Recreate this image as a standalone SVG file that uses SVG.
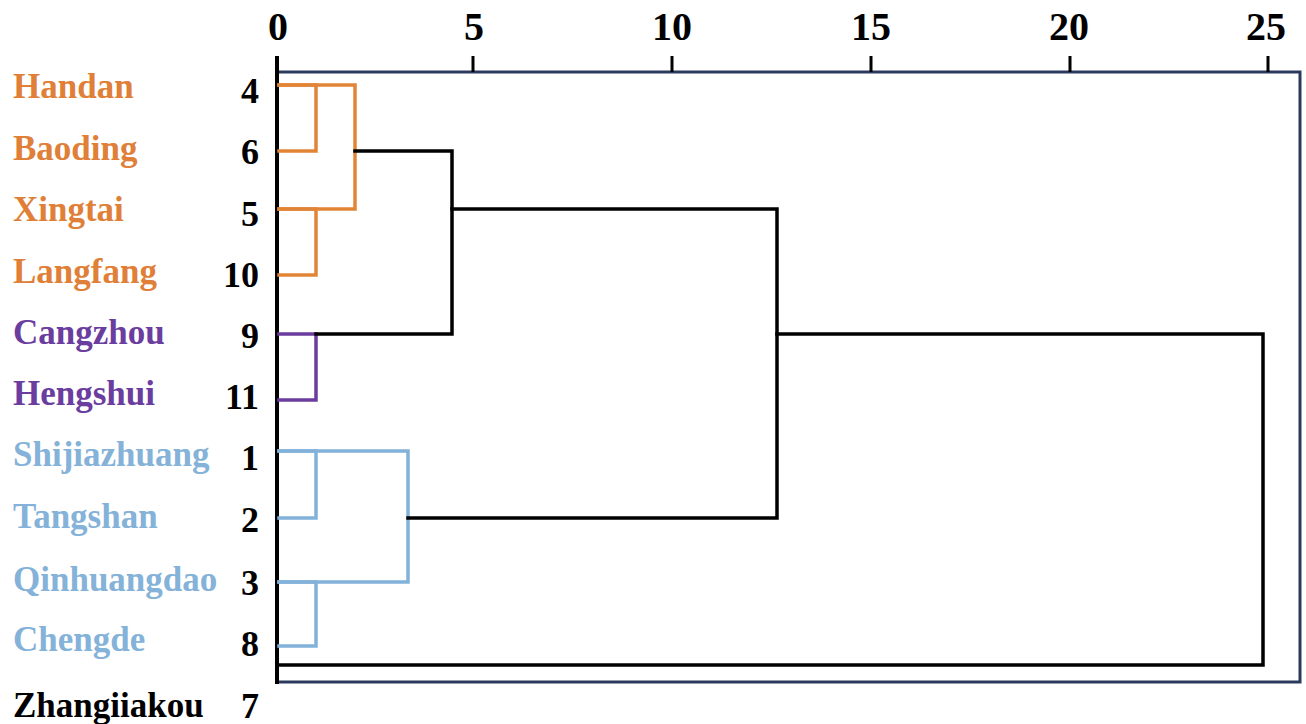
<svg xmlns="http://www.w3.org/2000/svg" width="1306" height="724" viewBox="0 0 1306 724">
<style>
text{font-family:"Liberation Serif","Times New Roman",serif;font-weight:bold}
.name{font-size:35px}
.num{font-size:36px;text-anchor:end;fill:#000}
.tick{font-size:40px;text-anchor:middle;fill:#000}
.o{fill:#E07F38}
.p{fill:#6A3D9E}
.b{fill:#84B2D8}
.k{fill:#000}
.ln{fill:none;stroke-width:3.5;stroke-linejoin:miter;stroke-linecap:square}
.lo{stroke:#E28436}
.lp{stroke:#6A3D9E}
.lb{stroke:#82B1DA}
.lk{stroke:#000}
</style>
<rect width="1306" height="724" fill="#fff"/>
<g id="axis">
<polyline points="277,72 1300,72 1300,682 277,682" fill="none" stroke="#2B3A5C" stroke-width="3"/>
<line x1="277" y1="56" x2="277" y2="684" stroke="#000" stroke-width="4"/>
<g stroke="#000" stroke-width="3">
<line x1="473" y1="56" x2="473" y2="72"/>
<line x1="672" y1="56" x2="672" y2="72"/>
<line x1="871" y1="56" x2="871" y2="72"/>
<line x1="1070" y1="56" x2="1070" y2="72"/>
<line x1="1268" y1="56" x2="1268" y2="72"/>
</g>
<text class="tick" x="278" y="40">0</text>
<text class="tick" x="474" y="40">5</text>
<text class="tick" x="672" y="40">10</text>
<text class="tick" x="871" y="40">15</text>
<text class="tick" x="1069" y="40">20</text>
<text class="tick" x="1266" y="40">25</text>
</g>
<g id="n4"><text class="name o" x="13" y="98">Handan</text><text class="num" x="259" y="103">4</text></g>
<g id="n6"><text class="name o" x="13" y="160">Baoding</text><text class="num" x="259" y="164">6</text></g>
<g id="n5"><text class="name o" x="13" y="221">Xingtai</text><text class="num" x="259" y="226">5</text></g>
<g id="n10"><text class="name o" x="13" y="283">Langfang</text><text class="num" x="259" y="287">10</text></g>
<g id="n9"><text class="name p" x="13" y="344">Cangzhou</text><text class="num" x="259" y="348">9</text></g>
<g id="n11"><text class="name p" x="13" y="405">Hengshui</text><text class="num" x="259" y="409">11</text></g>
<g id="n1"><text class="name b" x="13" y="466">Shijiazhuang</text><text class="num" x="259" y="470">1</text></g>
<g id="n2"><text class="name b" x="13" y="528">Tangshan</text><text class="num" x="259" y="532">2</text></g>
<g id="n3"><text class="name b" x="13" y="591">Qinhuangdao</text><text class="num" x="259" y="595">3</text></g>
<g id="n8"><text class="name b" x="13" y="651">Chengde</text><text class="num" x="259" y="656">8</text></g>
<g id="n7"><text class="name k" x="13" y="717">Zhangiiakou</text><text class="num" x="259" y="718">7</text></g>
<g id="connectors">
<polyline class="ln lo" points="279,85 316,85 316,151 279,151"/>
<polyline class="ln lo" points="279,209 316,209 316,275 279,275"/>
<polyline class="ln lo" points="279,85 355,85 355,209 279,209"/>
<polyline class="ln lp" points="279,334 316,334 316,400 279,400"/>
<polyline class="ln lb" points="279,451 316,451 316,518 279,518"/>
<polyline class="ln lb" points="279,582 316,582 316,646 279,646"/>
<polyline class="ln lb" points="279,451 408,451 408,582 279,582"/>
<polyline class="ln lk" points="355,151 452,151 452,334 316,334"/>
<polyline class="ln lk" points="452,209 777,209 777,518 408,518"/>
<polyline class="ln lk" points="777,334 1263,334 1263,665 279,665"/>
</g>
</svg>
